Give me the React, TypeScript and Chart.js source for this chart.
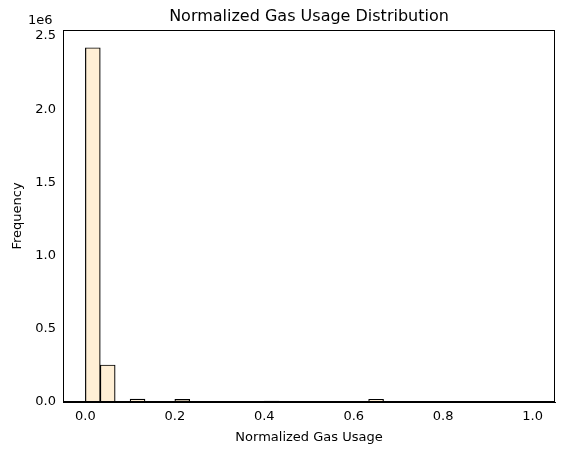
import { useEffect, useRef } from 'react';
import { Chart, registerables } from 'chart.js';

Chart.register(...registerables);

// histogram: 30 bins between 0 and 1
const binCount = 30;
const binCenters = Array.from({ length: binCount }, (_, i) => (i + 0.5) / binCount);
const frequencies = [
  2420000, 253000, 0, 20000, 0, 0, 18000, 0, 0, 0,
  0, 0, 6000, 0, 0, 5000, 0, 0, 0, 19000,
  0, 0, 0, 0, 0, 0, 0, 0, 0, 0,
];
const xTicks = [0, 0.2, 0.4, 0.6, 0.8, 1.0];
const yTicks = [0, 0.5e6, 1e6, 1.5e6, 2e6, 2.5e6];

const FONT = "'DejaVu Sans', sans-serif";

const decorPlugin = {
  id: 'decor',
  afterDraw(chart: Chart) {
    const { ctx, chartArea } = chart;
    ctx.save();
    ctx.strokeStyle = '#000';
    ctx.lineWidth = 1;
    ctx.strokeRect(chartArea.left + 0.5, chartArea.top + 0.5, chartArea.right - chartArea.left - 1, chartArea.bottom - chartArea.top - 1);
    ctx.fillStyle = '#000';
    ctx.font = `16px ${FONT}`;
    ctx.textAlign = 'center';
    ctx.textBaseline = 'middle';
    ctx.fillText('Normalized Gas Usage Distribution', (chartArea.left + chartArea.right) / 2, 17);
    ctx.font = `13px ${FONT}`;
    ctx.textAlign = 'left';
    ctx.fillText('1e6', 28, 21);
    ctx.restore();
  },
};

export default function App() {
  const ref = useRef<HTMLCanvasElement>(null);

  useEffect(() => {
    if (!ref.current) return;
    const chart = new Chart(ref.current, {
      type: 'bar',
      data: {
        datasets: [{
          data: binCenters.map((x, i) => ({ x, y: frequencies[i] })),
          backgroundColor: 'rgb(255,239,213)',
          borderColor: '#000',
          borderWidth: 1.2,
          barPercentage: 1,
          categoryPercentage: 1,
        }],
      },
      options: {
        animation: false,
        responsive: false,
        layout: { padding: { top: 30, right: 12, left: 0, bottom: 0 } },
        plugins: { legend: { display: false }, tooltip: { enabled: false } },
        scales: {
          x: {
            type: 'linear',
            offset: false,
            bounds: 'ticks',
            min: -0.05,
            max: 1.05,
            afterBuildTicks: (s: any) => { s.ticks = xTicks.map(v => ({ value: v })); },
            afterFit: (s: any) => { s.height = 53; },
            grid: { display: false, drawTicks: true, tickLength: 4 },
            border: { color: '#000' },
            ticks: { color: '#000', font: { family: FONT, size: 13 }, maxRotation: 0, callback: (v: any) => Number(v).toFixed(1) },
            title: { display: true, text: 'Normalized Gas Usage', color: '#000', font: { family: FONT, size: 13 }, padding: { top: 0, bottom: 10 } },
          },
          y: {
            min: 0,
            max: 2.541e6,
            afterBuildTicks: (s: any) => { s.ticks = yTicks.map(v => ({ value: v })); },
            afterFit: (s: any) => { s.width = 63; },
            grid: { display: false, drawTicks: true, tickLength: 4 },
            border: { color: '#000' },
            ticks: { color: '#000', font: { family: FONT, size: 13 }, callback: (v: any) => (Number(v) / 1e6).toFixed(1) },
            title: { display: true, text: 'Frequency', color: '#000', font: { family: FONT, size: 13 }, padding: { top: 10, bottom: 0 } },
          },
        },
      },
      plugins: [decorPlugin],
    });
    return () => chart.destroy();
  }, []);

  return (
    <div style={{ margin: -8 }}>
      <canvas ref={ref} width={567} height={455} style={{ display: 'block', width: 567, height: 455 }} />
    </div>
  );
}
